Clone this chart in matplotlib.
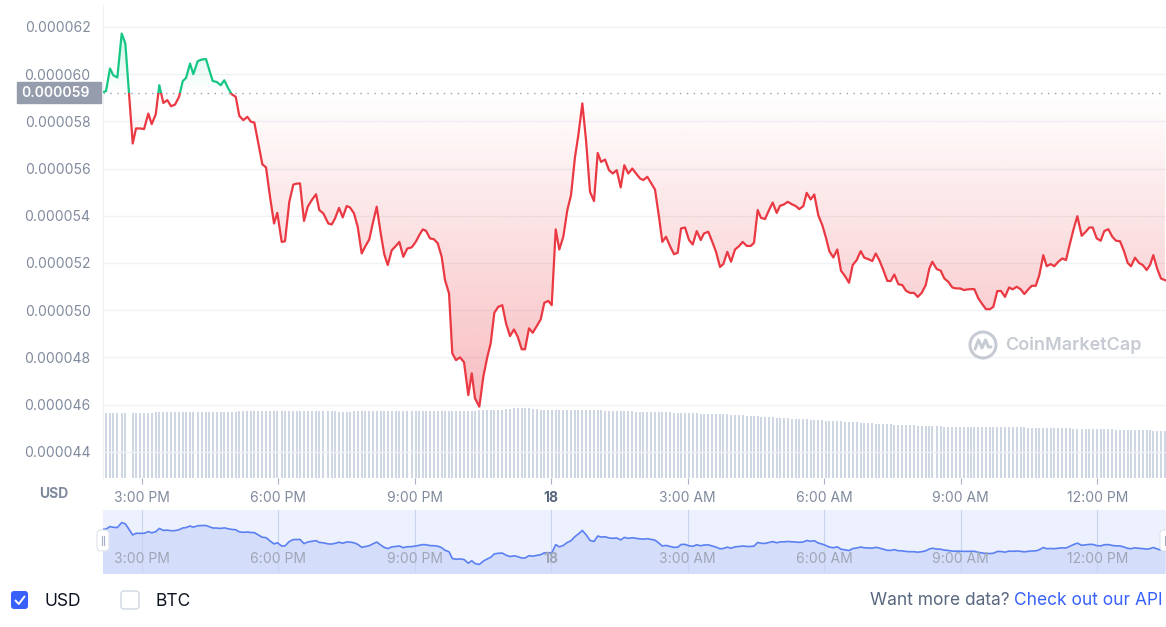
import numpy as np
import matplotlib
matplotlib.use("Agg")
import matplotlib.pyplot as plt
from matplotlib.patches import Rectangle, FancyBboxPatch, Circle
from matplotlib.colors import to_rgb
from matplotlib.transforms import blended_transform_factory

plt.rcParams['font.family'] = ['Inter', 'DejaVu Sans']

# hours counted from 00:00 on the 17th
hours = [
    14.121, 14.215, 14.303, 14.376, 14.464, 14.560, 14.640, 14.802, 14.875, 14.963,
    15.051, 15.145, 15.220, 15.308, 15.387, 15.475, 15.563, 15.644, 15.732, 15.820,
    15.901, 15.974, 16.062, 16.134, 16.231, 16.319, 16.413, 16.486, 16.560, 16.648,
    16.736, 16.815, 16.903, 16.978, 17.066, 17.145, 17.233, 17.321, 17.402, 17.475,
    17.563, 17.651, 17.732, 17.820, 17.908, 17.980, 18.077, 18.149, 18.244, 18.332,
    18.405, 18.479, 18.567, 18.648, 18.736, 18.831, 18.903, 18.991, 19.101, 19.176,
    19.248, 19.336, 19.418, 19.505, 19.578, 19.666, 19.747, 19.835, 19.908, 20.002,
    20.077, 20.165, 20.253, 20.332, 20.407, 20.495, 20.582, 20.662, 20.749, 20.837,
    20.934, 21.022, 21.101, 21.176, 21.248, 21.336, 21.424, 21.506, 21.593, 21.666,
    21.754, 21.826, 21.908, 21.996, 22.084, 22.178, 22.253, 22.325, 22.420, 22.508,
    22.596, 22.670, 22.750, 22.837, 22.925, 23.007, 23.094, 23.182, 23.264, 23.352,
    23.424, 23.512, 23.593, 23.681, 23.769, 23.848, 23.936, 24.011, 24.099, 24.178,
    24.266, 24.354, 24.435, 24.523, 24.596, 24.684, 24.765, 24.853, 24.941, 25.022,
    25.095, 25.183, 25.270, 25.352, 25.440, 25.527, 25.607, 25.694, 25.782, 25.864,
    25.952, 26.024, 26.112, 26.193, 26.281, 26.369, 26.442, 26.523, 26.611, 26.699,
    26.780, 26.853, 26.941, 27.029, 27.110, 27.198, 27.286, 27.358, 27.453, 27.541,
    27.622, 27.710, 27.783, 27.870, 27.952, 28.040, 28.127, 28.209, 28.297, 28.385,
    28.457, 28.538, 28.611, 28.699, 28.787, 28.868, 28.956, 29.029, 29.117, 29.198,
    29.286, 29.374, 29.453, 29.541, 29.615, 29.703, 29.782, 29.870, 29.958, 30.040,
    30.112, 30.200, 30.288, 30.369, 30.457, 30.545, 30.626, 30.714, 30.802, 30.881,
    30.969, 31.057, 31.132, 31.211, 31.299, 31.387, 31.461, 31.541, 31.629, 31.717,
    31.798, 31.886, 31.974, 32.055, 32.143, 32.231, 32.310, 32.376, 32.473, 32.561,
    32.640, 32.727, 32.815, 32.897, 32.985, 33.073, 33.154, 33.226, 33.299, 33.387,
    33.475, 33.556, 33.644, 33.717, 33.804, 33.886, 33.974, 34.062, 34.143, 34.231,
    34.319, 34.398, 34.486, 34.560, 34.648, 34.727, 34.815, 34.890, 34.978, 35.057,
    35.145, 35.233, 35.314, 35.402, 35.475, 35.563, 35.659, 35.747, 35.826, 35.901,
    35.989, 36.077, 36.156, 36.244, 36.332, 36.413, 36.501, 36.589, 36.670, 36.743,
    36.831, 36.919, 37.000, 37.088, 37.161, 37.233, 37.321, 37.402, 37.490,
]

# price in millionths of a USD
price_e6 = [
    59.22, 59.28, 60.24, 59.95, 59.86, 61.72, 61.30, 57.06, 57.70, 57.70,
    57.67, 58.33, 57.88, 58.30, 59.53, 58.78, 58.90, 58.64, 58.71, 59.04,
    59.70, 59.84, 60.45, 60.00, 60.55, 60.62, 60.64, 60.17, 59.71, 59.67,
    59.53, 59.74, 59.39, 59.15, 59.04, 58.23, 58.05, 58.19, 57.98, 57.95,
    57.06, 56.18, 56.05, 54.80, 53.67, 54.12, 52.89, 52.92, 54.59, 55.32,
    55.36, 55.37, 53.78, 54.38, 54.66, 54.91, 54.24, 54.10, 53.67, 53.63,
    53.88, 54.33, 53.93, 54.41, 54.35, 54.10, 53.53, 52.40, 52.68, 53.00,
    53.67, 54.38, 53.25, 52.36, 51.91, 52.54, 52.71, 52.89, 52.26, 52.61,
    52.66, 52.89, 53.18, 53.42, 53.36, 53.04, 53.00, 52.83, 52.26, 51.27,
    50.71, 48.17, 47.88, 48.00, 47.79, 46.40, 47.32, 46.26, 45.91, 47.18,
    48.02, 48.59, 49.89, 50.14, 50.21, 49.44, 48.90, 49.18, 48.87, 48.34,
    48.34, 49.23, 49.04, 49.32, 49.61, 50.31, 50.39, 50.21, 53.42, 52.57,
    53.11, 54.24, 54.87, 56.49, 57.41, 58.76, 57.20, 55.01, 54.62, 56.66,
    56.28, 56.38, 55.93, 55.79, 55.93, 55.20, 56.14, 55.79, 56.00, 55.79,
    55.58, 55.51, 55.65, 55.39, 55.11, 53.95, 52.89, 53.11, 52.71, 52.37,
    52.43, 53.46, 53.50, 52.97, 52.78, 53.35, 52.97, 53.25, 53.32, 52.89,
    52.47, 51.83, 51.95, 52.47, 52.05, 52.57, 52.71, 52.89, 52.72, 52.72,
    52.85, 54.24, 53.91, 53.86, 54.24, 54.56, 54.12, 54.42, 54.48, 54.59,
    54.49, 54.41, 54.28, 54.41, 54.97, 54.69, 54.90, 54.02, 53.60, 53.06,
    52.50, 52.23, 52.57, 51.67, 51.44, 51.16, 51.91, 52.12, 52.50, 52.22,
    52.16, 52.08, 52.40, 52.12, 51.70, 51.24, 51.23, 51.51, 51.10, 51.06,
    50.82, 50.73, 50.73, 50.56, 50.73, 51.06, 51.76, 52.05, 51.74, 51.67,
    51.34, 51.20, 50.96, 50.92, 50.92, 50.85, 50.88, 50.89, 50.89, 50.50,
    50.25, 50.04, 50.04, 50.14, 50.81, 50.81, 50.56, 50.96, 50.88, 50.99,
    50.88, 50.68, 50.88, 51.03, 51.03, 51.48, 52.33, 51.86, 51.95, 51.86,
    52.05, 52.19, 52.12, 52.83, 53.39, 53.98, 53.15, 53.32, 53.50, 53.50,
    53.04, 52.94, 53.35, 53.43, 53.11, 52.94, 52.92, 52.50, 52.00, 51.86,
    52.22, 52.00, 51.91, 51.70, 51.91, 52.33, 51.74, 51.34, 51.27,
]

# volume, millions of USD
volume_m = [
    1.35, 1.35, 1.35, 1.35, 1.35, 1.35, 1.35, 1.35, 1.35, 1.35,
    1.36, 1.36, 1.36, 1.37, 1.37, 1.37, 1.37, 1.37, 1.37, 1.37,
    1.38, 1.38, 1.38, 1.38, 1.38, 1.38, 1.38, 1.38, 1.38, 1.38,
    1.38, 1.38, 1.38, 1.38, 1.38, 1.39, 1.39, 1.39, 1.39, 1.39,
    1.39, 1.39, 1.39, 1.39, 1.39, 1.39, 1.39, 1.39, 1.39, 1.39,
    1.39, 1.39, 1.39, 1.39, 1.39, 1.39, 1.39, 1.39, 1.39, 1.39,
    1.39, 1.38, 1.38, 1.38, 1.38, 1.39, 1.39, 1.39, 1.39, 1.39,
    1.39, 1.39, 1.39, 1.39, 1.39, 1.39, 1.39, 1.39, 1.39, 1.39,
    1.39, 1.39, 1.39, 1.39, 1.39, 1.39, 1.39, 1.39, 1.39, 1.39,
    1.39, 1.39, 1.39, 1.39, 1.39, 1.39, 1.39, 1.40, 1.41, 1.41,
    1.41, 1.42, 1.42, 1.42, 1.42, 1.43, 1.44, 1.45, 1.45, 1.45,
    1.45, 1.45, 1.43, 1.43, 1.42, 1.42, 1.42, 1.42, 1.41, 1.42,
    1.42, 1.42, 1.42, 1.42, 1.42, 1.41, 1.41, 1.41, 1.41, 1.41,
    1.41, 1.40, 1.40, 1.40, 1.39, 1.39, 1.39, 1.39, 1.39, 1.38,
    1.38, 1.38, 1.38, 1.38, 1.37, 1.37, 1.37, 1.37, 1.37, 1.36,
    1.36, 1.36, 1.36, 1.35, 1.35, 1.35, 1.34, 1.34, 1.34, 1.33,
    1.33, 1.33, 1.32, 1.32, 1.31, 1.31, 1.30, 1.30, 1.29, 1.29,
    1.28, 1.28, 1.27, 1.27, 1.26, 1.26, 1.25, 1.25, 1.24, 1.24,
    1.23, 1.23, 1.22, 1.22, 1.22, 1.21, 1.21, 1.20, 1.20, 1.19,
    1.19, 1.18, 1.18, 1.18, 1.17, 1.17, 1.16, 1.16, 1.15, 1.15,
    1.14, 1.14, 1.13, 1.13, 1.12, 1.12, 1.12, 1.11, 1.11, 1.11,
    1.10, 1.10, 1.10, 1.09, 1.09, 1.09, 1.08, 1.08, 1.08, 1.08,
    1.07, 1.07, 1.07, 1.07, 1.06, 1.06, 1.06, 1.06, 1.06, 1.06,
    1.05, 1.05, 1.05, 1.05, 1.05, 1.05, 1.05, 1.05, 1.05, 1.05,
    1.05, 1.05, 1.04, 1.04, 1.04, 1.04, 1.04, 1.04, 1.04, 1.03,
    1.03, 1.03, 1.03, 1.03, 1.02, 1.02, 1.02, 1.02, 1.02, 1.02,
    1.01, 1.01, 1.01, 1.01, 1.01, 1.00, 1.00, 1.00, 1.00, 1.00,
    1.00, 0.99, 0.99, 0.99, 0.99, 0.98, 0.98, 0.98, 0.98,
]

x_ticks = [15, 18, 21, 24, 27, 30, 33, 36]
x_labels = ["3:00 PM", "6:00 PM", "9:00 PM", "18", "3:00 AM", "6:00 AM", "9:00 AM", "12:00 PM"]
y_ticks = [0.000044, 0.000046, 0.000048, 0.000050, 0.000052, 0.000054,
           0.000056, 0.000058, 0.000060, 0.000062]

RED = '#ea3943'
GREEN = '#16c784'
GREY = '#808a9d'

hours = np.array(hours)
prices = np.array(price_e6) * 1e-6
ref = prices[0]

W, H = 1166, 627
fig = plt.figure(figsize=(W / 100, H / 100), dpi=100)


def fx(px):
    return px / W


def fy(py):
    return 1 - py / H


x0, x1 = 14.149, 37.512
rect = [fx(103), fy(478), fx(1166) - fx(103), (478 - 5) / H]

# volume bars sit in their own axes behind the price axes
axv = fig.add_axes(rect)
axv.bar(hours, volume_m, width=0.05, color='#cfd6e4', linewidth=0)
axv.set_xlim(x0, x1)
axv.set_ylim(0, 9.83)
axv.axis('off')

ax = fig.add_axes(rect)
ax.patch.set_visible(False)
ax.set_xlim(x0, x1)
ax.set_ylim(42.886e-6, 62.93e-6)

# gradient fills between price and the opening price
poly = ax.fill_between(hours, prices, ref, facecolor='none', edgecolor='none')
clip = poly.get_paths()[0]

red_img = np.zeros((256, 1, 4))
red_img[..., :3] = to_rgb(RED)
red_img[:, 0, 3] = np.linspace(0.34, 0.0, 256)
im_r = ax.imshow(red_img, extent=[x0, x1, prices.min(), ref], origin='lower',
                 aspect='auto', interpolation='bilinear', zorder=1)
im_r.set_clip_path(clip, transform=ax.transData)

green_img = np.zeros((256, 1, 4))
green_img[..., :3] = to_rgb(GREEN)
green_img[:, 0, 3] = np.linspace(0.0, 0.2, 256)
im_g = ax.imshow(green_img, extent=[x0, x1, ref, prices.max()], origin='lower',
                 aspect='auto', interpolation='bilinear', zorder=1)
im_g.set_clip_path(clip, transform=ax.transData)
ax.set_xlim(x0, x1)
ax.set_ylim(42.886e-6, 62.93e-6)

line_r, = ax.plot(hours, prices, color=RED, lw=1.6, zorder=3, solid_joinstyle='round')
line_r.set_clip_path(Rectangle((x0, 0), x1 - x0, ref, transform=ax.transData))
line_g, = ax.plot(hours, prices, color=GREEN, lw=1.6, zorder=3, solid_joinstyle='round')
line_g.set_clip_path(Rectangle((x0, ref), x1 - x0, 1e-4, transform=ax.transData))

ax.axhline(ref, color='#9aa1ad', lw=1, ls=(0, (1, 4)), zorder=2)

ax.set_yticks(y_ticks, ["{:.6f}".format(v) for v in y_ticks])
ax.set_xticks(x_ticks, x_labels)
ax.grid(axis='y', color='#eff2f5', lw=1)
ax.set_axisbelow(True)
for side in ['top', 'right', 'bottom']:
    ax.spines[side].set_visible(False)
ax.spines['left'].set_color('#eceff3')
ax.tick_params(axis='y', length=0, pad=9, labelsize=10, labelcolor=GREY)
ax.tick_params(axis='x', length=4, color='#a6b0c3', pad=5, labelsize=10, labelcolor=GREY)
for lbl in ax.get_xticklabels():
    if lbl.get_text() == '18':
        lbl.set_fontweight('bold')
        lbl.set_color('#58667e')

# opening price tag on the left
blend = blended_transform_factory(fig.transFigure, ax.transData)
ax.add_patch(Rectangle((fx(17), ref - 0.445e-6), fx(101) - fx(17), 0.89e-6,
                       transform=blend, color='#959cab', clip_on=False, zorder=5))
ax.text(fx(90), ref, "{:.6f}".format(ref), transform=blend, ha='right', va='center',
        color='white', fontsize=10, fontweight='semibold', clip_on=False, zorder=6)

fig.text(fx(54), fy(494), 'USD', ha='center', va='center', fontsize=10,
         fontweight='bold', color=GREY)

# watermark
wm = '#c6cbd3'
fig.add_artist(Circle((9.83, (H - 345) / 100), 0.13, transform=fig.dpi_scale_trans,
                      fill=False, ec=wm, lw=2.2))
mx = np.array([-8, -4.5, -1, 2.5, 5.5, 8]) / 100 + 9.83
my = np.array([-4, 5, -3, 5, -2, -2]) / 100 + (H - 345) / 100
fig.add_artist(plt.Line2D(mx, my, transform=fig.dpi_scale_trans, color=wm, lw=2.2,
                          solid_joinstyle='round', solid_capstyle='round'))
fig.text(fx(1005), fy(345), 'CoinMarketCap', ha='left', va='center', fontsize=13,
         fontweight='semibold', color=wm)

# navigator
axn = fig.add_axes([fx(103), fy(572.7), fx(1166) - fx(103), 62.7 / H])
axn.set_facecolor('#edf1fd')
axn.fill_between(hours, prices, 0, color='#d4defb', lw=0, zorder=1)
axn.plot(hours, prices, color='#5b80f2', lw=1.2, zorder=3)
axn.set_xlim(x0, x1)
axn.set_ylim(42.8e-6, 66.5e-6)
axn.set_xticks([])
axn.set_yticks([])
for side in axn.spines:
    axn.spines[side].set_visible(False)
nblend = blended_transform_factory(axn.transData, axn.transAxes)
for t, lab in zip(x_ticks, x_labels):
    axn.axvline(t, color='#c9d3f3', lw=0.8, zorder=2)
    axn.text(t, 0.22, lab, transform=nblend, ha='center', va='center', fontsize=10,
             color='#9ea6b6', fontweight='bold' if lab == '18' else 'normal', zorder=4)

for hx in [97, 1160]:
    fig.add_artist(FancyBboxPatch((hx / 100, (H - 551) / 100), 0.12, 0.21,
                                  boxstyle='round,pad=0,rounding_size=0.04',
                                  transform=fig.dpi_scale_trans, fc='white',
                                  ec='#dfe3ea', lw=0.8))
    for lx in [hx + 4.8, hx + 7.2]:
        fig.add_artist(plt.Line2D([lx / 100, lx / 100], [(H - 545) / 100, (H - 536) / 100],
                                  transform=fig.dpi_scale_trans, color='#a6b0c3', lw=0.8))

# currency toggles and API link
fig.add_artist(FancyBboxPatch((0.11, (H - 609) / 100), 0.17, 0.18,
                              boxstyle='round,pad=0,rounding_size=0.03',
                              transform=fig.dpi_scale_trans, fc='#3861fb', ec='none'))
fig.add_artist(plt.Line2D(np.array([15.5, 18.8, 24.5]) / 100,
                          (H - np.array([600.5, 604, 596.5])) / 100,
                          transform=fig.dpi_scale_trans, color='white', lw=1.4,
                          solid_capstyle='round', solid_joinstyle='round'))
fig.add_artist(FancyBboxPatch((1.21, (H - 609) / 100), 0.18, 0.18,
                              boxstyle='round,pad=0,rounding_size=0.03',
                              transform=fig.dpi_scale_trans, fc='white', ec='#cfd6e4', lw=1))
fig.text(fx(45), fy(601), 'USD', ha='left', va='center', fontsize=12.5, color='#0d1421')
fig.text(fx(155), fy(601), 'BTC', ha='left', va='center', fontsize=12.5, color='#0d1421')

api = fig.text(fx(1163), fy(600.5), 'Check out our API', ha='right', va='center',
               fontsize=12.5, color='#3861fb')
fig.add_artist(matplotlib.text.Annotation('Want more data?', xy=(0, 0.5), xycoords=api,
                                          xytext=(-3.5, 0), textcoords='offset points',
                                          ha='right', va='center', fontsize=12.5,
                                          color='#58667e'))

fig.savefig('out.png', dpi=100)
